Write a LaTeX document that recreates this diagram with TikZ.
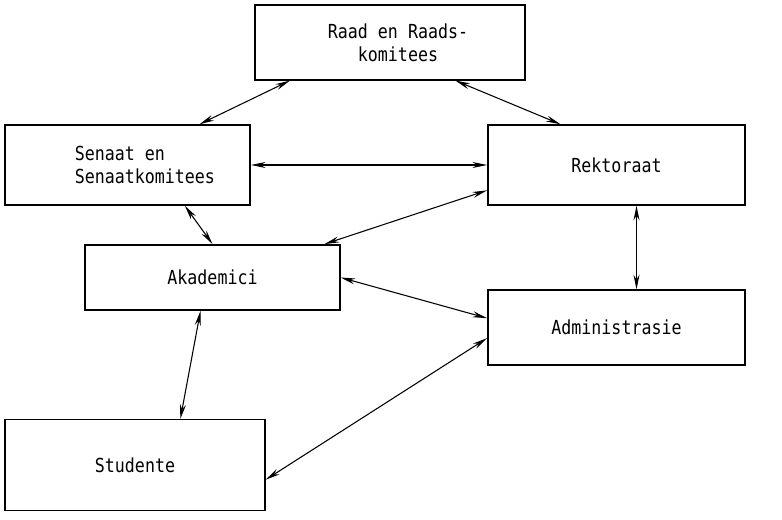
\documentclass[tikz,border=0pt]{standalone}
\usepackage{fontspec}
\setmainfont{DejaVu Sans Mono}[FakeStretch=0.86]
\usetikzlibrary{arrows.meta}

\begin{document}
\begin{tikzpicture}[
  x=0.75pt, y=-0.75pt,
  box/.style={rectangle, draw, line width=1.1pt, fill=white, inner sep=0pt, align=center, font=\fontsize{14.5}{17}\selectfont},
  arrow/.style={{Stealth[length=11pt,width=4.5pt]}-{Stealth[length=11pt,width=4.5pt]}, line width=0.8pt}
]

\useasboundingbox (0,0) rectangle (782,520);

\node[box, minimum width=202.5pt, minimum height=56pt] (raad) at (390,42.5) {\hspace*{12pt}Raad en Raads-\\\hspace*{12pt}komitees};
\node[box, minimum width=184pt, minimum height=60pt, align=left] (senaat) at (127.5,165) {\hspace*{26pt}Senaat en\\\hspace*{26pt}Senaatkomitees};
\node[box, minimum width=193pt, minimum height=60pt] (rektoraat) at (616.5,165) {Rektoraat};
\node[box, minimum width=191pt, minimum height=49pt] (akademici) at (212.5,277.5) {Akademici};
\node[box, minimum width=193pt, minimum height=56pt] (admin) at (616.5,327.5) {Administrasie};
\node[box, minimum width=195pt, minimum height=68pt] (studente) at (135,465) {Studente};

\draw[arrow] ([xshift=-75pt]raad.south) -- ([xshift=54pt]senaat.north);
\draw[arrow] ([xshift=49pt]raad.south) -- ([xshift=-42pt]rektoraat.north);
\draw[arrow] (senaat.east) -- (rektoraat.west);
\draw[arrow] ([xshift=43pt]senaat.south) -- ([xshift=0pt]akademici.north);
\draw[arrow] ([yshift=-19pt]rektoraat.west) -- ([xshift=84pt]akademici.north);
\draw[arrow] ([xshift=15pt]rektoraat.south) -- ([xshift=15pt]admin.north);
\draw[arrow] (akademici.east) -- ([yshift=7pt]admin.west);
\draw[arrow] ([xshift=-9pt]akademici.south) -- ([xshift=34pt]studente.north);
\draw[arrow] ([yshift=-8pt]admin.west) -- ([yshift=-11pt]studente.east);

\end{tikzpicture}
\end{document}
